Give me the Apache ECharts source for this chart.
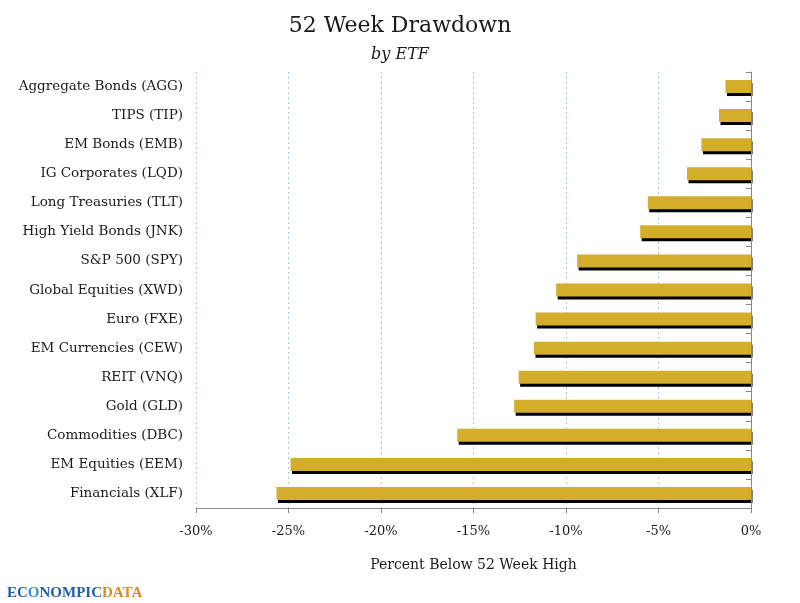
<!DOCTYPE html>
<html>
<head>
<meta charset="utf-8">
<script src="https://cdn.jsdelivr.net/npm/echarts@6/dist/echarts.min.js"></script>
<style>
  html, body { margin: 0; padding: 0; background: #fff; }
  #main { width: 800px; height: 603px; }
</style>
</head>
<body>
<div id="main"></div>
<script>
// ETF names, top to bottom as in the picture
const categories = [
  "Aggregate Bonds (AGG)", "TIPS (TIP)", "EM Bonds (EMB)", "IG Corporates (LQD)",
  "Long Treasuries (TLT)", "High Yield Bonds (JNK)", "S&P 500 (SPY)",
  "Global Equities (XWD)", "Euro (FXE)", "EM Currencies (CEW)", "REIT (VNQ)",
  "Gold (GLD)", "Commodities (DBC)", "EM Equities (EEM)", "Financials (XLF)"
];

// percent below 52 week high
const drawdown = [
  -1.38, -1.73, -2.68, -3.46, -5.58, -5.99, -9.40,
  -10.53, -11.64, -11.73, -12.56, -12.80, -15.88, -24.89, -25.65
];

const xTicks = [-30, -25, -20, -15, -10, -5, 0];

const serif = "'DejaVu Serif', 'Liberation Serif', serif";
const textColor = "#1a1a1a";

let myChart = echarts.init(document.getElementById("main"));

let options = {
  backgroundColor: "#fff",
  animation: false,
  title: [
    {
      text: "52 Week Drawdown",
      left: "center",
      top: 10,
      textStyle: { fontFamily: serif, fontSize: 22, fontWeight: "normal", color: textColor }
    },
    {
      text: "by ETF",
      left: "center",
      top: 42,
      textStyle: { fontFamily: serif, fontSize: 16, fontWeight: "normal", fontStyle: "italic", color: textColor }
    }
  ],
  grid: { left: 196, right: 49, top: 72, bottom: 95 },
  xAxis: {
    type: "value",
    min: xTicks[0],
    max: xTicks[xTicks.length - 1],
    interval: 5,
    name: "Percent Below 52 Week High",
    nameLocation: "middle",
    nameGap: 50,
    nameTextStyle: { fontFamily: serif, fontSize: 14, color: textColor },
    axisLine: { show: true, lineStyle: { color: "#888", width: 1 } },
    axisTick: { show: true, length: 5, lineStyle: { color: "#888" } },
    axisLabel: {
      fontFamily: serif, fontSize: 13, color: textColor, margin: 17,
      formatter: (v) => v + "%"
    },
    splitLine: {
      show: true,
      lineStyle: { color: "#a9c6de", type: [2, 3], width: 1 }
    }
  },
  yAxis: [
    {
      type: "category",
      data: categories,
      inverse: true,
      position: "left",
      axisLine: { show: false },
      axisTick: { show: false },
      axisLabel: { fontFamily: serif, fontSize: 13.5, color: textColor, margin: 13 }
    },
    {
      type: "category",
      data: categories,
      inverse: true,
      position: "right",
      z: 5,
      axisLine: { show: true, lineStyle: { color: "#888", width: 1 } },
      axisTick: { show: true, inside: true, length: 5, lineStyle: { color: "#888" } },
      axisLabel: { show: false }
    }
  ],
  series: [
    {
      name: "Drawdown",
      type: "bar",
      yAxisIndex: 0,
      data: drawdown,
      barWidth: 13,
      z: 2,
      itemStyle: {
        color: "#d4ae2b",
        shadowColor: "#000",
        shadowBlur: 0,
        shadowOffsetX: 1.5,
        shadowOffsetY: 3
      }
    }
  ],
  graphic: [
    {
      type: "text",
      left: 7,
      top: 586,
      style: {
        text: "{b|EC}{g|O}{b|NOMPIC}{o|DATA}",
        rich: {
          b: { fontFamily: "'Liberation Serif', serif", fontSize: 15, fontWeight: "bold", fill: "#2160a8" },
          g: { fontFamily: "'Liberation Serif', serif", fontSize: 15, fontWeight: "bold", fill: "#3a8fd0" },
          o: { fontFamily: "'Liberation Serif', serif", fontSize: 15, fontWeight: "bold", fill: "#d98c1c" }
        }
      }
    }
  ]
};

myChart.setOption(options);
</script>
</body>
</html>
